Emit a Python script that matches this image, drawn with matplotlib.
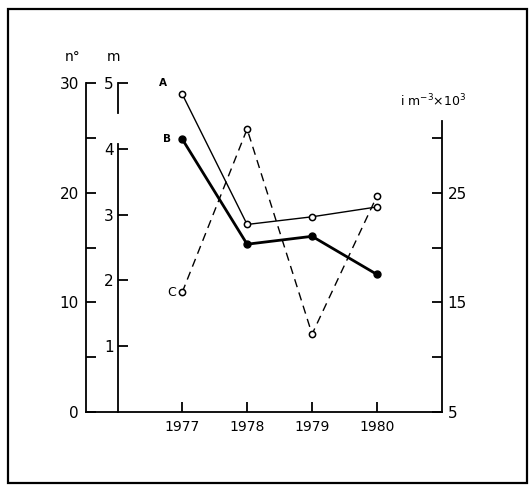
import matplotlib
matplotlib.use('Agg')
import matplotlib.pyplot as plt
import matplotlib.patches as patches
import matplotlib.transforms as mtransforms

# data
years = [1977, 1978, 1979, 1980]
serie_a = [29.0, 17.1, 17.8, 18.7]    # n° (left axis)
serie_b = [4.15, 2.55, 2.67, 2.09]    # m
serie_c = [15.9, 30.8, 12.1, 24.7]    # i m-3 x 10^3 (right axis)

plt.rcParams['font.family'] = 'DejaVu Sans'

W, H = 529, 486
fig = plt.figure(figsize=(W / 100, H / 100), dpi=100)

# outer frame
fig.patches.append(patches.Rectangle((8 / W, 1 - 483 / H), 519 / W, 474 / H,
                                     transform=fig.transFigure, fill=False,
                                     edgecolor='black', linewidth=1.6))

ax = fig.add_axes([86 / W, 1 - 412 / H, 356 / W, 329 / H])
ax.set_xlim(1975.52, 1981.0)
ax.set_ylim(0, 30)
ax.patch.set_alpha(0)

for s in ['top', 'right']:
    ax.spines[s].set_visible(False)
for s in ['left', 'bottom']:
    ax.spines[s].set_linewidth(1.3)
ax.spines['left'].set_bounds(0, 30)

ax.set_xticks(years)
ax.set_xticklabels([str(y) for y in years], fontsize=10)
ax.set_yticks([0, 10, 20, 30])
ax.set_yticks([5, 15, 25], minor=True)
ax.tick_params(axis='both', which='both', direction='in', length=7, width=1.3)
ax.tick_params(axis='x', pad=6)
ax.tick_params(axis='y', labelsize=11, pad=5)

# m axis
ax_m = ax.twinx()
ax_m.set_ylim(0, 5)
for s in ['top', 'right', 'bottom']:
    ax_m.spines[s].set_visible(False)
m_pos = 32 / 356
ax_m.spines['left'].set_visible(True)
ax_m.spines['left'].set_position(('axes', m_pos))
ax_m.spines['left'].set_linewidth(1.3)
ax_m.spines['left'].set_bounds(0, 4.08)
ax_m.yaxis.set_ticks_position('left')
ax_m.yaxis.set_label_position('left')
ax_m.set_yticks([1, 2, 3, 4, 5])
ax_m.tick_params(axis='y', direction='in', length=7, width=1.3, labelsize=11, pad=3)
blend = mtransforms.blended_transform_factory(ax_m.transAxes, ax_m.transData)
ax_m.plot([m_pos, m_pos], [4.55, 5], transform=blend, color='black', lw=1.3,
          clip_on=False)

# right axis
ax_r = ax.twinx()
ax_r.set_ylim(5, 35)
for s in ['top', 'left', 'bottom']:
    ax_r.spines[s].set_visible(False)
ax_r.spines['right'].set_linewidth(1.3)
ax_r.spines['right'].set_bounds(5, 31.5)
ax_r.set_yticks([5, 15, 25])
ax_r.set_yticks([10, 20, 30], minor=True)
ax_r.tick_params(axis='y', which='both', direction='in', length=7, width=1.3,
                 labelsize=11, pad=4)

# series
ax.plot(years, serie_a, color='black', lw=1.0, marker='o', ms=4.5,
        mfc='white', mec='black', mew=1.1, clip_on=False, zorder=5)
ax_m.plot(years, serie_b, color='black', lw=2.0, marker='o', ms=5,
          mfc='black', mec='black', clip_on=False, zorder=5)
ax_r.plot(years, serie_c, color='black', lw=1.0, ls=(0, (6, 4)), marker='o',
          ms=4.5, mfc='white', mec='black', mew=1.1, clip_on=False, zorder=5)

ax.annotate('A', (years[0], serie_a[0]), xytext=(-13.5, 8), textcoords='offset points',
            ha='center', va='center', fontsize=7.5, fontweight='bold')
ax_m.annotate('B', (years[0], serie_b[0]), xytext=(-11, 0), textcoords='offset points',
              ha='center', va='center', fontsize=7.5, fontweight='bold')
ax_r.annotate('C', (years[0], serie_c[0]), xytext=(-7.5, 0), textcoords='offset points',
              ha='center', va='center', fontsize=9)

# axis titles
fig.text(73 / W, 1 - 57 / H, 'n°', ha='center', va='center', fontsize=10)
fig.text(113 / W, 1 - 57 / H, 'm', ha='center', va='center', fontsize=10)
fig.text(433 / W, 1 - 101 / H, r'i m$^{-3}$$\times$10$^{3}$', ha='center',
         va='center', fontsize=9)

fig.savefig('out.png', dpi=100)
